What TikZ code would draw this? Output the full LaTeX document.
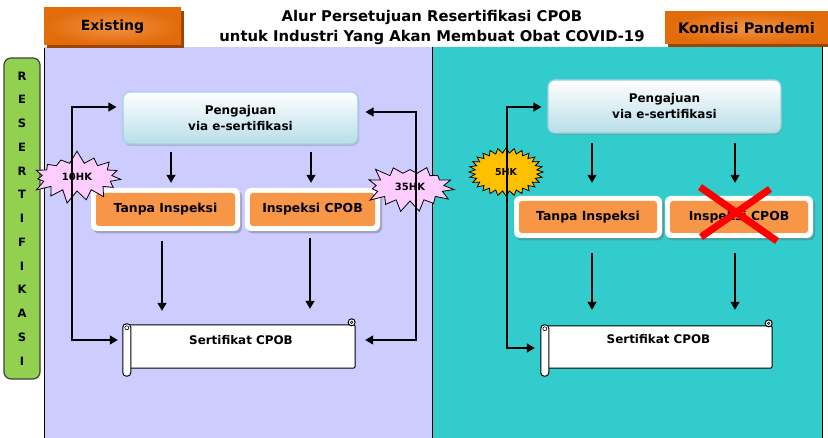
\documentclass[tikz,border=0pt]{standalone}
\usepackage{fontspec}
\setmainfont{DejaVu Sans}
\usetikzlibrary{arrows.meta,shapes.symbols,shadows,calc}
\definecolor{lav}{HTML}{CCCCFF}
\definecolor{tealbg}{HTML}{33CCCC}
\definecolor{boxor}{HTML}{F79646}
\definecolor{tabor}{HTML}{E26B0A}
\definecolor{tablt}{HTML}{F29244}
\definecolor{tabsh}{HTML}{9C4306}
\definecolor{grn}{HTML}{92D050}
\definecolor{pinkb}{HTML}{FFCCFF}
\definecolor{yelb}{HTML}{FFC000}
\definecolor{pengbot}{HTML}{B7DEE8}
\definecolor{pengline}{HTML}{9FD2DF}

% scroll outline around a body node
\newcommand{\scrollshape}[1]{%
  \draw[scrl, rounded corners=2pt] (#1.north west) rectangle (#1.south east);
  \draw[scrl] ($(#1.north east)+(-3.5,-2.5)$) circle (3.5pt);
  \draw[scrl, line width=0.6pt] ($(#1.north east)+(-3.5,-2.5)$) circle (1.3pt);
  \draw[scrl, rounded corners=3.5pt] ($(#1.north west)+(-4,-1)$) rectangle ($(#1.south west)+(4,8)$);
  \draw[scrl, line width=0.6pt] ($(#1.north west)+(0,3)$) circle (2pt);
}

\begin{document}
\begin{tikzpicture}[x=1pt,y=-1pt,
  font=\bfseries,
  arr/.style={line width=1.2pt, -{Triangle[length=8pt,width=9pt]}},
  looparr/.style={line width=1.2pt, {Triangle[length=8pt,width=9pt]}-{Triangle[length=8pt,width=9pt]}},
  tabbox/.style={inner sep=0pt, shading=radial, inner color=tablt, outer color=tabor,
    drop shadow={shadow xshift=2.5pt, shadow yshift=-3pt, fill=tabsh, opacity=1}},
  pengbox/.style={rounded corners=7pt, draw=pengline, line width=1.2pt, top color=white,
    bottom color=pengbot, inner sep=0pt, align=center, font=\fontsize{12}{16}\bfseries,
    drop shadow={shadow xshift=1pt, shadow yshift=-2pt, fill=black!50, opacity=0.35}},
  stepbox/.style={rounded corners=6pt, fill=white, inner sep=0pt,
    font=\fontsize{12.4}{14}\bfseries,
    drop shadow={shadow xshift=2pt, shadow yshift=-2.5pt, fill=black!60, opacity=0.4},
    path picture={\fill[boxor, rounded corners=3pt]
      ([shift={(5pt,-5pt)}]path picture bounding box.north west) rectangle
      ([shift={(-5pt,5pt)}]path picture bounding box.south east);}},
  scrollbody/.style={inner sep=0pt},
  scrl/.style={draw=black, fill=white, line width=1pt},
  lbl/.style={font=\fontsize{11.9}{14}\bfseries},
  burst/.style={starburst, draw=black, line width=0.8pt, fill=pinkb,
    starburst points=15, starburst point height=13pt, random starburst=7,
    font=\fontsize{10}{11}\bfseries, inner sep=1pt},
  cross/.style={draw=red, line width=7pt}
]
\useasboundingbox (0,0) rectangle (828,438);

% panels
\fill[lav] (44,47) rectangle (432,438);
\fill[tealbg] (432,47) rectangle (822,438);
\draw[line width=1pt] (44,48) -- (44,438);
\draw[line width=1pt] (432,47) -- (432,438);
\draw[line width=1pt] (822,47) -- (822,438);

% header tabs and title
\node[tabbox, minimum width=137pt, minimum height=37pt, font=\fontsize{14}{16}\bfseries] (tabL) at (112.5,26.5) {\raisebox{-1.5pt}{Existing}};
\node[tabbox, minimum width=163pt, minimum height=32pt, font=\fontsize{14.6}{16}\bfseries] (tabR) at (746.5,28) {\raisebox{-1.5pt}{Kondisi Pandemi}};
\node[align=center, font=\fontsize{14.8}{20}\bfseries] (title) at (432,27)
  {Alur Persetujuan Resertifikasi CPOB\\untuk Industri Yang Akan Membuat Obat COVID-19};

% vertical side label
\node[draw=black!75, line width=1.2pt, fill=grn, rounded corners=7pt,
  minimum width=36pt, minimum height=321pt, inner sep=0pt, align=center,
  font=\fontsize{11.5}{23.75}\bfseries] (res) at (22,218.5)
  {R\\E\\S\\E\\R\\T\\I\\F\\I\\K\\A\\S\\I};

% ---- existing flow ----
\node[pengbox, minimum width=235pt, minimum height=52pt] (peng1) at (240.5,118)
  {Pengajuan\\via e-sertifikasi};
\node[stepbox, minimum width=149pt, minimum height=43pt] (tanpa1) at (165.5,209.5) {Tanpa Inspeksi};
\node[stepbox, minimum width=135pt, minimum height=43pt] (insp1) at (312.5,209.5) {Inspeksi CPOB};
\node[scrollbody, minimum width=228pt, minimum height=43pt] (sert1) at (241,346.5) {};
\scrollshape{sert1}
\node[lbl] (sert1t) at ($(sert1.center)+(0,-6.5)$) {Sertifikat CPOB};

\node[burst, minimum width=96pt, minimum height=54pt] (hk10) at (77,177) {10HK};
\node[burst, minimum width=94pt, minimum height=54pt, random starburst=23] (hk35) at (410,187) {35HK};

\draw[arr, shorten <=7pt, shorten >=5pt] ($(peng1.south -| tanpa1.north)+(5.5,0)$) -- ($(tanpa1.north)+(5.5,0)$);
\draw[arr, shorten <=7pt, shorten >=5pt] ($(peng1.south -| insp1.north)+(-1.5,0)$) -- ($(insp1.north)+(-1.5,0)$);
\draw[arr, shorten <=10pt, shorten >=14pt] ($(tanpa1.south)+(-3.5,0)$) -- ($(sert1.north -| tanpa1.south)+(-3.5,0)$);
\draw[arr, shorten <=7pt, shorten >=16pt] ($(insp1.south)+(-2.5,0)$) -- ($(sert1.north -| insp1.south)+(-2.5,0)$);

\coordinate (l1) at (72,0);
\coordinate (r1) at (416,0);
\coordinate (p1a) at ($(peng1.west)+(0,-11)$);
\coordinate (s1a) at ($(sert1.west)+(0,-6.5)$);
\coordinate (p1b) at ($(peng1.east)+(0,-6)$);
\coordinate (s1b) at ($(sert1.east)+(0,-6.5)$);
\draw[looparr, shorten <=6pt, shorten >=9pt] (p1a) -- (p1a -| l1) -- (s1a -| l1) -- (s1a);
\draw[looparr, shorten <=7pt, shorten >=10pt] (p1b) -- (p1b -| r1) -- (s1b -| r1) -- (s1b);

% ---- pandemic flow ----
\node[pengbox, minimum width=233pt, minimum height=53pt] (peng2) at (664.5,106.5)
  {Pengajuan\\via e-sertifikasi};
\node[stepbox, minimum width=148pt, minimum height=42pt] (tanpa2) at (588,217) {Tanpa Inspeksi};
\node[stepbox, minimum width=148pt, minimum height=42pt] (insp2) at (739,217) {Inspeksi CPOB};
\node[scrollbody, minimum width=227pt, minimum height=42pt] (sert2) at (658.5,347) {};
\scrollshape{sert2}
\node[lbl] (sert2t) at ($(sert2.center)+(0,-8)$) {Sertifikat CPOB};

% 5HK seal: an elliptical star with 28 points
\coordinate (hk5c) at (506,172);
\draw[line width=0.8pt, fill=yelb, shift={(hk5c)}]
  (0:37 and 24) \foreach \i in {1,...,55} {
    -- ({\i*45/7}:{37-6*mod(\i,2)} and {24-5*mod(\i,2)})
  } -- cycle;
\node[font=\fontsize{9.5}{11}\bfseries] (hk5) at (hk5c) {5HK};

\draw[arr, shorten <=9pt, shorten >=13pt] ($(peng2.south -| tanpa2.north)+(4,0)$) -- ($(tanpa2.north)+(4,0)$);
\draw[arr, shorten <=9pt, shorten >=13pt] ($(peng2.south -| insp2.north)+(-4,0)$) -- ($(insp2.north)+(-4,0)$);
\draw[arr, shorten <=15pt, shorten >=16pt] ($(tanpa2.south)+(4,0)$) -- ($(sert2.north -| tanpa2.south)+(4,0)$);
\draw[arr, shorten <=15pt, shorten >=16pt] ($(insp2.south)+(-4,0)$) -- ($(sert2.north -| insp2.south)+(-4,0)$);

\coordinate (l2) at (507,0);
\coordinate (p2a) at ($(peng2.west)+(0,0.5)$);
\coordinate (s2a) at ($(sert2.west)+(0,1)$);
\draw[looparr, shorten <=6pt, shorten >=10pt] (p2a) -- (p2a -| l2) -- (s2a -| l2) -- (s2a);

% inspection step dropped
\draw[cross] ($(insp2.center)+(-39,-30)$) -- ($(insp2.center)+(38,24)$);
\draw[cross] ($(insp2.center)+(31,-28)$) -- ($(insp2.center)+(-38,20)$);
\end{tikzpicture}
\end{document}
